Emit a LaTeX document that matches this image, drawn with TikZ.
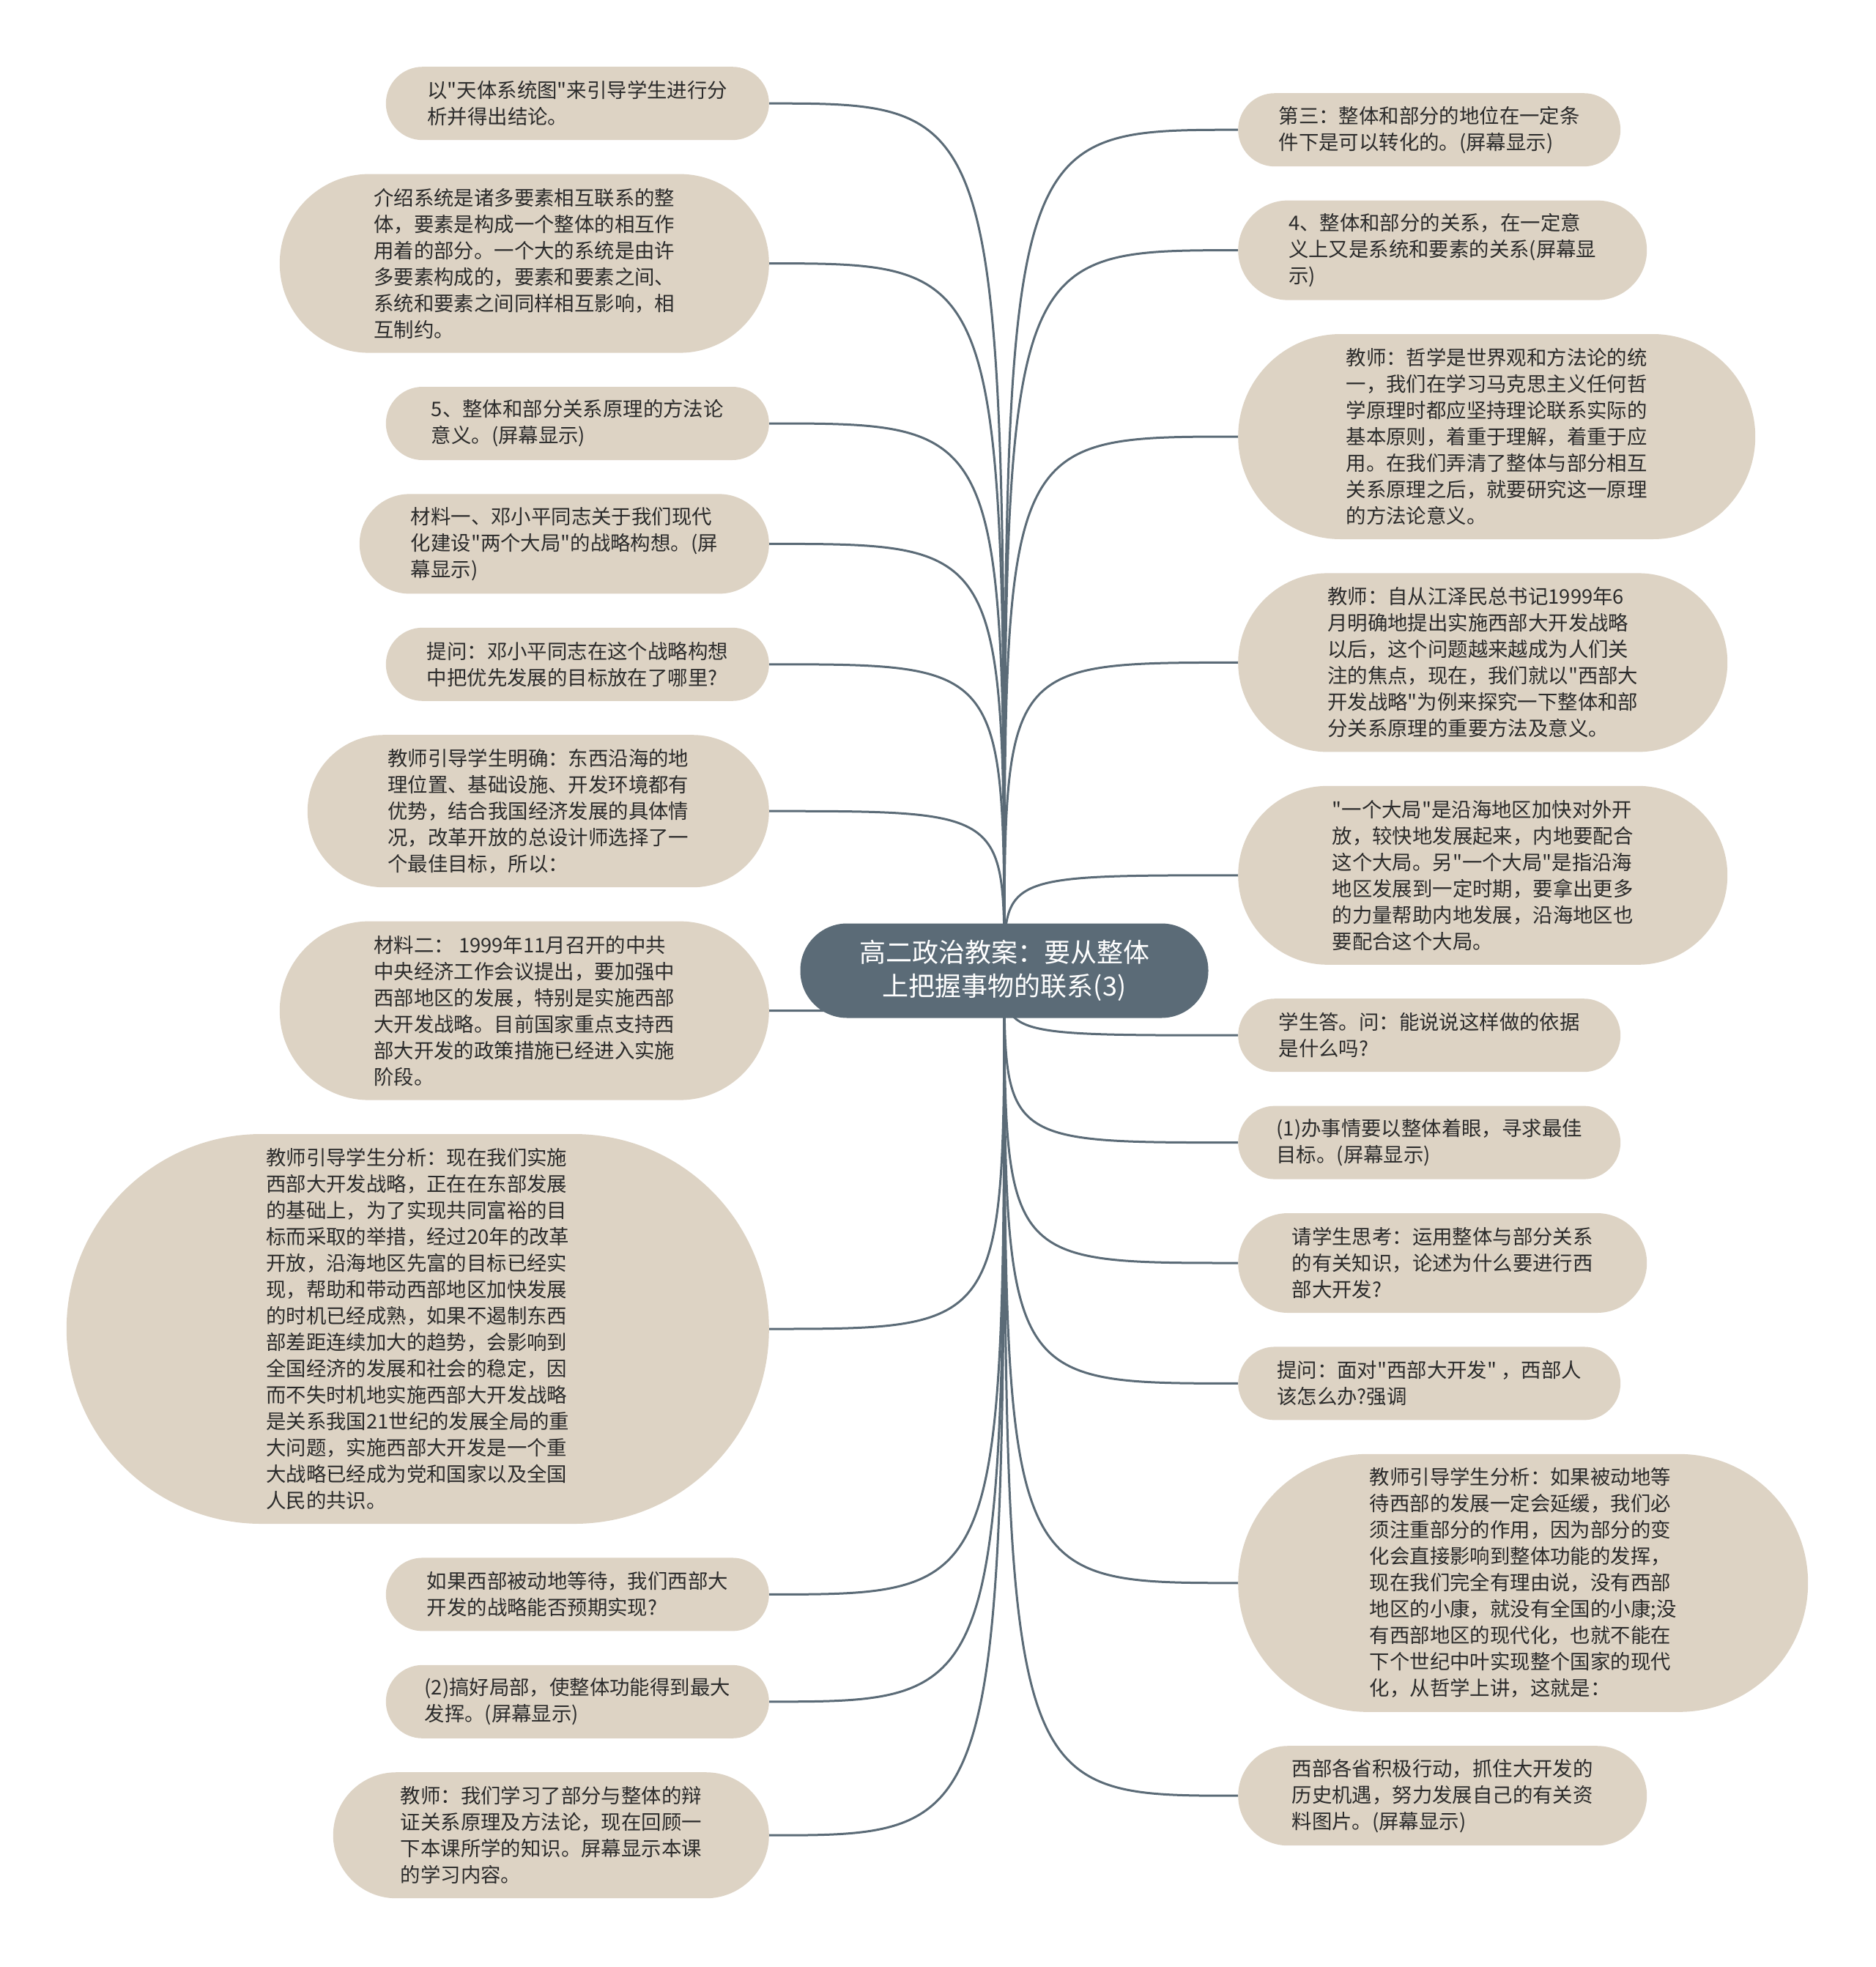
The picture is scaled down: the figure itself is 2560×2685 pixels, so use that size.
\documentclass[tikz,border=0pt]{standalone}
\usepackage{fontspec}
\setmainfont{Noto Sans CJK SC}[Ligatures=TeXOff]
\usepackage{tikz}
\usetikzlibrary{positioning}
\usetikzlibrary{backgrounds}

\definecolor{topicfill}{HTML}{5B6B77}
\definecolor{leaffill}{HTML}{DDD3C4}
\definecolor{leaftext}{HTML}{2B2B2B}

\begin{document}
\begin{tikzpicture}[
		x=1pt, y=-1pt,
		node distance=46pt,
		topic/.style={
			rectangle,
			fill=topicfill,
			text=white,
			align=center,
			inner sep=0pt,
			minimum width=557pt,
			minimum height=129pt,
			rounded corners=64pt,
			font=\fontsize{36pt}{46pt}\selectfont
		},
		leaf/.style={
			rectangle,
			fill=leaffill,
			text=leaftext,
			align=left,
			inner sep=0pt,
			font=\fontsize{27.4pt}{36pt}\selectfont
		},
		nlines/.style={
			minimum height=#1*36pt+28pt,
			rounded corners=#1*18pt+14pt
		},
		link/.style={
			draw=topicfill,
			line width=3pt
		}
		]
		
		\useasboundingbox (0,0) rectangle (2560,2685);
		
		% Nodes
		\node[topic] (title) at (1371,1325) {高二政治教案：要从整体\\上把握事物的联系(3)};
		
		% left side
		\node[leaf, nlines=2, minimum width=523pt, anchor=north east] (skyMap) at (1050,91) {以"天体系统图"来引导学生进行分\\析并得出结论。};
		
		\node[leaf, nlines=6, minimum width=668pt, below=of skyMap.south east, anchor=north east] (systemIntro) {介绍系统是诸多要素相互联系的整\\体，要素是构成一个整体的相互作\\用着的部分。一个大的系统是由许\\多要素构成的，要素和要素之间、\\系统和要素之间同样相互影响，相\\互制约。};
		
		\node[leaf, nlines=2, minimum width=523pt, below=of systemIntro.south east, anchor=north east] (methodMeaning) {5、整体和部分关系原理的方法论\\意义。(屏幕显示)};
		
		\node[leaf, nlines=3, minimum width=559pt, below=of methodMeaning.south east, anchor=north east] (material1) {材料一、邓小平同志关于我们现代\\化建设"两个大局"的战略构想。(屏\\幕显示)};
		
		\node[leaf, nlines=2, minimum width=523pt, below=of material1.south east, anchor=north east] (askGoal) {提问：邓小平同志在这个战略构想\\中把优先发展的目标放在了哪里?};
		
		\node[leaf, nlines=5, minimum width=630pt, below=of askGoal.south east, anchor=north east] (coastAdv) {教师引导学生明确：东西沿海的地\\理位置、基础设施、开发环境都有\\优势，结合我国经济发展的具体情\\况，改革开放的总设计师选择了一\\个最佳目标，所以：};
		
		\node[leaf, nlines=6, minimum width=668pt, below=of coastAdv.south east, anchor=north east] (material2) {材料二： 1999年11月召开的中共\\中央经济工作会议提出，要加强中\\西部地区的发展，特别是实施西部\\大开发战略。目前国家重点支持西\\部大开发的政策措施已经进入实施\\阶段。};
		
		\node[leaf, nlines=14, minimum width=959pt, below=of material2.south east, anchor=north east] (westAnalysis) {教师引导学生分析：现在我们实施\\西部大开发战略，正在在东部发展\\的基础上，为了实现共同富裕的目\\标而采取的举措，经过20年的改革\\开放，沿海地区先富的目标已经实\\现，帮助和带动西部地区加快发展\\的时机已经成熟，如果不遏制东西\\部差距连续加大的趋势，会影响到\\全国经济的发展和社会的稳定，因\\而不失时机地实施西部大开发战略\\是关系我国21世纪的发展全局的重\\大问题，实施西部大开发是一个重\\大战略已经成为党和国家以及全国\\人民的共识。};
		
		\node[leaf, nlines=2, minimum width=523pt, below=of westAnalysis.south east, anchor=north east] (passiveWait) {如果西部被动地等待，我们西部大\\开发的战略能否预期实现?};
		
		\node[leaf, nlines=2, minimum width=523pt, below=of passiveWait.south east, anchor=north east] (partsWell) {(2)搞好局部，使整体功能得到最大\\发挥。(屏幕显示)};
		
		\node[leaf, nlines=4, minimum width=595pt, below=of partsWell.south east, anchor=north east] (review) {教师：我们学习了部分与整体的辩\\证关系原理及方法论，现在回顾一\\下本课所学的知识。屏幕显示本课\\的学习内容。};
		
		% right side
		\node[leaf, nlines=2, minimum width=522pt, anchor=north west] (third) at (1690,127) {第三：整体和部分的地位在一定条\\件下是可以转化的。(屏幕显示)};
		
		\node[leaf, nlines=3, minimum width=558pt, below=of third.south west, anchor=north west] (fourth) {4、整体和部分的关系，在一定意\\义上又是系统和要素的关系(屏幕显\\示)};
		
		\node[leaf, nlines=7, minimum width=706pt, below=of fourth.south west, anchor=north west] (philosophy) {教师：哲学是世界观和方法论的统\\一，我们在学习马克思主义任何哲\\学原理时都应坚持理论联系实际的\\基本原则，着重于理解，着重于应\\用。在我们弄清了整体与部分相互\\关系原理之后，就要研究这一原理\\的方法论意义。};
		
		\node[leaf, nlines=6, minimum width=668pt, below=of philosophy.south west, anchor=north west] (westStrategy) {教师：自从江泽民总书记1999年6\\月明确地提出实施西部大开发战略\\以后，这个问题越来越成为人们关\\注的焦点，现在，我们就以"西部大\\开发战略"为例来探究一下整体和部\\分关系原理的重要方法及意义。};
		
		\node[leaf, nlines=6, minimum width=668pt, below=of westStrategy.south west, anchor=north west] (twoOverall) {"一个大局"是沿海地区加快对外开\\放，较快地发展起来，内地要配合\\这个大局。另"一个大局"是指沿海\\地区发展到一定时期，要拿出更多\\的力量帮助内地发展，沿海地区也\\要配合这个大局。};
		
		\node[leaf, nlines=2, minimum width=522pt, below=of twoOverall.south west, anchor=north west] (askBasis) {学生答。问：能说说这样做的依据\\是什么吗?};
		
		\node[leaf, nlines=2, minimum width=522pt, below=of askBasis.south west, anchor=north west] (wholeView) {(1)办事情要以整体着眼，寻求最佳\\目标。(屏幕显示)};
		
		\node[leaf, nlines=3, minimum width=558pt, below=of wholeView.south west, anchor=north west] (thinkWhy) {请学生思考：运用整体与部分关系\\的有关知识，论述为什么要进行西\\部大开发?};
		
		\node[leaf, nlines=2, minimum width=522pt, below=of thinkWhy.south west, anchor=north west] (askWest) {提问：面对"西部大开发" ，西部人\\该怎么办?强调};
		
		\node[leaf, nlines=9, minimum width=778pt, below=of askWest.south west, anchor=north west] (partRole) {教师引导学生分析：如果被动地等\\待西部的发展一定会延缓，我们必\\须注重部分的作用，因为部分的变\\化会直接影响到整体功能的发挥，\\现在我们完全有理由说，没有西部\\地区的小康，就没有全国的小康;没\\有西部地区的现代化，也就不能在\\下个世纪中叶实现整个国家的现代\\化，从哲学上讲，这就是：};
		
		\node[leaf, nlines=3, minimum width=558pt, below=of partRole.south west, anchor=north west] (provinces) {西部各省积极行动，抓住大开发的\\历史机遇，努力发展自己的有关资\\料图片。(屏幕显示)};
		
		% Links (behind the nodes)
		\begin{scope}[on background layer]
		\draw[link] (title.center) .. controls (title.center |- skyMap.east) .. (skyMap.east);
		\draw[link] (title.center) .. controls (title.center |- systemIntro.east) .. (systemIntro.east);
		\draw[link] (title.center) .. controls (title.center |- methodMeaning.east) .. (methodMeaning.east);
		\draw[link] (title.center) .. controls (title.center |- material1.east) .. (material1.east);
		\draw[link] (title.center) .. controls (title.center |- askGoal.east) .. (askGoal.east);
		\draw[link] (title.center) .. controls (title.center |- coastAdv.east) .. (coastAdv.east);
		\draw[link] (title.center) .. controls (title.center |- material2.east) .. (material2.east);
		\draw[link] (title.center) .. controls (title.center |- westAnalysis.east) .. (westAnalysis.east);
		\draw[link] (title.center) .. controls (title.center |- passiveWait.east) .. (passiveWait.east);
		\draw[link] (title.center) .. controls (title.center |- partsWell.east) .. (partsWell.east);
		\draw[link] (title.center) .. controls (title.center |- review.east) .. (review.east);
		
		\draw[link] (title.center) .. controls (title.center |- third.west) .. (third.west);
		\draw[link] (title.center) .. controls (title.center |- fourth.west) .. (fourth.west);
		\draw[link] (title.center) .. controls (title.center |- philosophy.west) .. (philosophy.west);
		\draw[link] (title.center) .. controls (title.center |- westStrategy.west) .. (westStrategy.west);
		\draw[link] (title.center) .. controls (title.center |- twoOverall.west) .. (twoOverall.west);
		\draw[link] (title.center) .. controls (title.center |- askBasis.west) .. (askBasis.west);
		\draw[link] (title.center) .. controls (title.center |- wholeView.west) .. (wholeView.west);
		\draw[link] (title.center) .. controls (title.center |- thinkWhy.west) .. (thinkWhy.west);
		\draw[link] (title.center) .. controls (title.center |- askWest.west) .. (askWest.west);
		\draw[link] (title.center) .. controls (title.center |- partRole.west) .. (partRole.west);
		\draw[link] (title.center) .. controls (title.center |- provinces.west) .. (provinces.west);
		\end{scope}
	\end{tikzpicture}
\end{document}
